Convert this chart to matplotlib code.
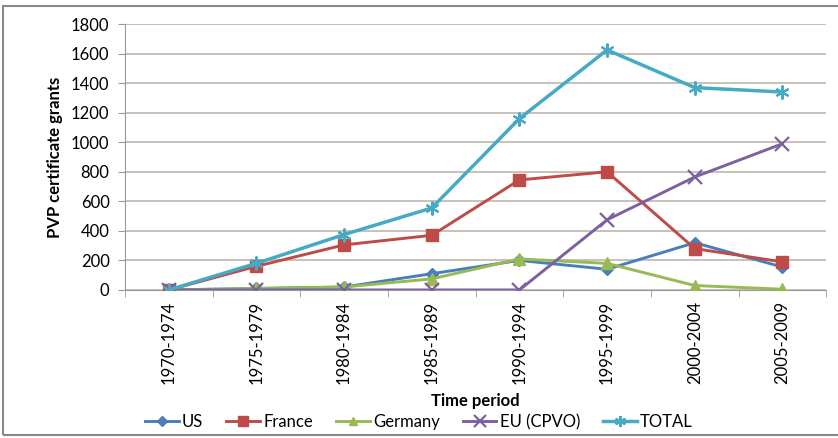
import numpy as np
import matplotlib
matplotlib.use('Agg')
import matplotlib.pyplot as plt
from matplotlib.patches import Rectangle

# データ
periods = ['1970-1974', '1975-1979', '1980-1984', '1985-1989',
           '1990-1994', '1995-1999', '2000-2004', '2005-2009']
us = [0, 10, 20, 110, 200, 140, 320, 155]
france = [0, 160, 305, 370, 745, 800, 280, 190]
germany = [0, 10, 20, 75, 210, 180, 30, 5]
eu = [0, 0, 0, 0, 0, 475, 765, 990]
total = [0, 180, 375, 555, 1160, 1625, 1370, 1340]
yticks = [0, 200, 400, 600, 800, 1000, 1200, 1400, 1600, 1800]

plt.rcParams['font.family'] = ['Lato', 'DejaVu Sans']

fig = plt.figure(figsize=(8.38, 4.38), dpi=100)
ax = fig.add_axes([0.149, 0.338, 0.837, 0.607])

x = np.arange(len(periods))
lw = 2.1
ax.plot(x, us, color='#4a7ebb', lw=lw, marker='D', ms=6, label='US', zorder=3)
ax.plot(x, france, color='#be4b48', lw=lw, marker='s', ms=9, label='France', zorder=3)
ax.plot(x, germany, color='#98b954', lw=lw, marker='^', ms=8, label='Germany', zorder=3)
ax.plot(x, eu, color='#7d60a0', lw=lw, marker='x', ms=10, mew=1.6, label='EU (CPVO)', zorder=3)
ax.plot(x, total, color='#46aac5', lw=lw + 0.4, marker=(6, 2, 0), ms=10, mew=1.5, label='TOTAL', zorder=3)

ax.set_xlim(-0.5, len(periods) - 0.5)
ax.set_ylim(0, 1800)
ax.set_yticks(yticks)
ax.set_yticklabels([str(v) for v in yticks], fontsize=12)
ax.set_xticks(x)
ax.set_xticklabels(periods, rotation=90, fontsize=12)
ax.set_xticks(np.arange(-0.5, len(periods)), minor=True)
ax.tick_params(axis='x', which='major', length=0, pad=8)
ax.tick_params(axis='x', which='minor', length=5, color='#999999', direction='out')
ax.tick_params(axis='y', length=5, color='#999999', pad=6)

ax.grid(axis='y', color='#c4bcb4', lw=1.3)
ax.set_axisbelow(True)
for s in ['top', 'right']:
    ax.spines[s].set_visible(False)
ax.spines['left'].set_color('#999999')
ax.spines['bottom'].set_color('#999999')

ax.set_ylabel('PVP certificate grants', fontsize=12, fontweight='bold', labelpad=6)
ax.set_xlabel('Time period', fontsize=12, fontweight='bold', labelpad=6)

fig.legend(loc='center', bbox_to_anchor=(0.5, 0.036), ncol=5, frameon=False,
           fontsize=12, handlelength=2.0, columnspacing=1.4, handletextpad=0.2,
           markerscale=0.8)

# 外枠
fig.patches.append(Rectangle((0.004, 0.007), 1.0, 0.98, transform=fig.transFigure,
                             fill=False, edgecolor='#888888', lw=1.5))

fig.savefig('out.png', dpi=100)
